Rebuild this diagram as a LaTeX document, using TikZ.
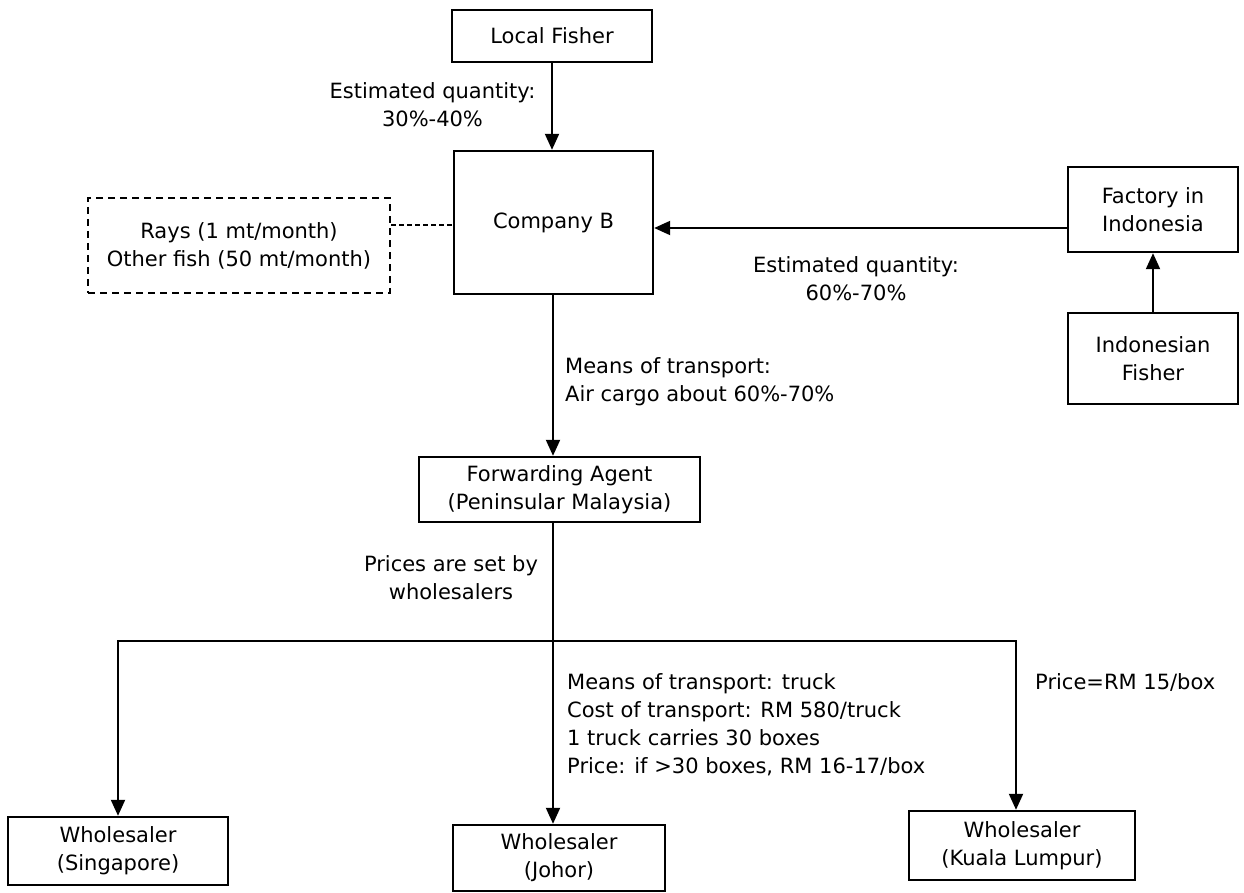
\documentclass[tikz,border=0pt]{standalone}
\usepackage{fontspec}
\setmainfont{DejaVu Sans}
\usetikzlibrary{arrows.meta}
\begin{document}
\begin{tikzpicture}[x=1pt,y=-1pt,
  every node/.style={font=\fontsize{21}{28}\selectfont},
  box/.style={draw,line width=2.4pt,align=center,inner sep=0pt},
  notebox/.style={draw,dashed,line width=2.2pt,align=center,inner sep=0pt,
    dash pattern=on 7pt off 5pt},
  lbl/.style={align=center,inner sep=0pt},
  lbll/.style={align=left,inner sep=0pt,anchor=west},
  conn/.style={line width=2pt},
  arr/.style={line width=2pt,-{Triangle[length=16pt,width=14pt]}}]
\useasboundingbox (0,0) rectangle (1244,893);

% boxes
\node[box,minimum width=200pt,minimum height=52pt] (lf) at (552,36) {Local Fisher};
\node[box,minimum width=199pt,minimum height=143pt] (cb) at (553.5,222.5) {Company B};
\node[notebox,minimum width=302pt,minimum height=95pt] (note) at (239,245.5)
  {Rays (1 mt/month)\\Other fish (50 mt/month)};
\node[box,minimum width=170pt,minimum height=85pt] (fac) at (1153,209.5) {Factory in\\Indonesia};
\node[box,minimum width=170pt,minimum height=91pt] (ifi) at (1153,358.5) {Indonesian\\Fisher};
\node[box,minimum width=281pt,minimum height=65pt] (fwd) at (559.5,489.5)
  {Forwarding Agent\\(Peninsular Malaysia)};
\node[box,minimum width=220pt,minimum height=68pt] (sg) at (118,851) {Wholesaler\\(Singapore)};
\node[box,minimum width=212pt,minimum height=66pt] (jh) at (559,858) {Wholesaler\\(Johor)};
\node[box,minimum width=226pt,minimum height=69pt] (kl) at (1022,845.5) {Wholesaler\\(Kuala Lumpur)};

% labels
\node[lbl] (q1) at (432.5,104.5) {Estimated quantity:\\30\%-40\%};
\node[lbl] (q2) at (856,279) {Estimated quantity:\\60\%-70\%};
\node[lbll] (air) at (565,382) {Means of transport:\\Air cargo about 60\%-70\%};
\node[lbl] (set) at (451,578) {Prices are set by\\wholesalers};
\node[lbll] (truck) at (567,724.5) {Means of transport: truck\\Cost of transport: RM 580/truck\\1 truck carries 30 boxes\\Price: if >30 boxes, RM 16-17/box};
\node[lbll] (kp) at (1035,682) {Price=RM 15/box};

% connectors
\coordinate (jn) at (553,641);
\draw[arr] (lf.south) -- (lf.south |- cb.north);
\draw[conn,dashed,dash pattern=on 5pt off 3pt] (note.east |- 0,225.5) -- (cb.west |- 0,225.5);
\draw[arr] (fac.west |- 0,228) -- (cb.east |- 0,228);
\draw[arr] (ifi.north) -- (fac.south);
\draw[arr] (cb.south -| jn) -- (fwd.north -| jn);
\draw[arr] (fwd.south -| jn) -- (jh.north -| jn);
\draw[arr] (jn) -| (sg.north);
\draw[arr] (jn) -| ([xshift=-6pt]kl.north);
\end{tikzpicture}
\end{document}
